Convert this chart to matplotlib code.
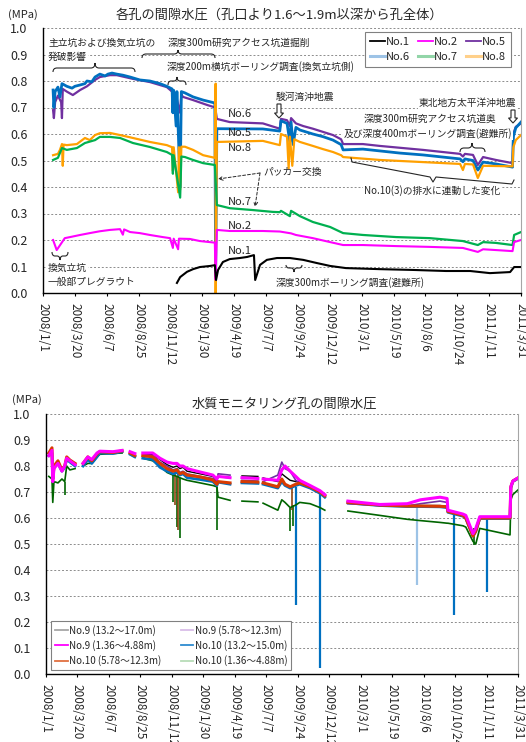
import numpy as np
import pandas as pd
import matplotlib
matplotlib.use('Agg')
import matplotlib.pyplot as plt
from matplotlib.lines import Line2D
from matplotlib.path import Path
from matplotlib.patches import PathPatch, FancyArrow, FancyArrowPatch
from matplotlib.ticker import FormatStrFormatter
from matplotlib.transforms import Affine2D

nan = np.nan

# ---------------- 各孔の間隙水圧 ----------------
no1_dates = ['2008/11/28', '2008/12/6', '2008/12/23', '2009/1/7', '2009/1/24', '2009/2/18', '2009/3/2',
             '2009/3/5', '2009/3/10', '2009/3/22', '2009/4/8', '2009/5/3', '2009/5/21', '2009/6/7',
             '2009/6/10', '2009/6/22', '2009/7/9', '2009/8/3', '2009/9/4', '2009/10/7', '2009/11/10',
             '2009/12/13', '2010/1/21', '2010/4/15', '2010/7/6', '2010/9/26', '2010/11/25', '2011/1/13',
             '2011/3/4', '2011/3/14', '2011/3/31']
no1_vals = [0.038, 0.06, 0.08, 0.09, 0.098, 0.102, 0.105, 0.049, 0.087, 0.117, 0.128, 0.132, 0.136, 0.143,
            0.049, 0.106, 0.125, 0.132, 0.132, 0.125, 0.113, 0.102, 0.094, 0.09, 0.087, 0.083, 0.083, 0.075,
            0.079, 0.098, 0.098]

no2_dates = ['2008/1/26', '2008/2/4', '2008/2/12', '2008/2/24', '2008/3/8', '2008/4/2', '2008/4/26', '2008/5/21',
             '2008/6/15', '2008/7/10', '2008/7/17', '2008/7/20', '2008/8/4', '2008/8/28', '2008/9/22',
             '2008/10/24', '2008/11/11', '2008/11/18', '2008/11/20', '2008/12/1', '2008/12/3', '2008/12/30',
             '2009/1/24', '2009/3/2', '2009/3/4', '2009/3/7', '2009/4/8', '2009/6/29', '2009/8/10', '2009/9/7',
             '2009/9/19', '2009/10/31', '2009/12/13', '2010/1/14', '2010/3/4', '2010/5/26', '2010/8/17',
             '2010/11/7', '2010/12/14', '2010/12/27', '2011/1/28', '2011/3/10', '2011/3/14', '2011/3/31']
no2_vals = [0.20, 0.162, 0.18, 0.207, 0.211, 0.219, 0.226, 0.233, 0.238, 0.241, 0.22, 0.24, 0.23, 0.226, 0.219,
            0.211, 0.207, 0.17, 0.205, 0.165, 0.205, 0.204, 0.196, 0.19, 0.05, 0.238, 0.234, 0.234, 0.232, 0.225,
            0.219, 0.207, 0.192, 0.181, 0.181, 0.177, 0.174, 0.17, 0.155, 0.165, 0.162, 0.158, 0.192, 0.20]

no5_dates = ['2008/1/26', '2008/1/28', '2008/1/31', '2008/2/7', '2008/2/15', '2008/2/17', '2008/2/19', '2008/2/29',
             '2008/3/15', '2008/4/2', '2008/4/19', '2008/5/9', '2008/5/21', '2008/6/15', '2008/7/2', '2008/8/11',
             '2008/9/22', '2008/11/3', '2008/11/16', '2008/11/21', '2008/11/24', '2008/12/6', '2008/12/9',
             '2008/12/13', '2009/1/7', '2009/2/10', '2009/3/3', '2009/3/7', '2009/4/8', '2009/6/29', '2009/8/10',
             '2009/8/13', '2009/8/28', '2009/9/4', '2009/9/7', '2009/9/19', '2009/10/7', '2009/10/31',
             '2009/11/25', '2009/12/20', '2010/1/9', '2010/1/14', '2010/3/4', '2010/4/15', '2010/6/11',
             '2010/7/31', '2010/9/18', '2010/10/31', '2010/11/7', '2010/11/12', '2010/12/2', '2010/12/14',
             '2010/12/27', '2011/1/28', '2011/3/10', '2011/3/12', '2011/3/18', '2011/3/31']
no5_vals = [0.69, 0.66, 0.72, 0.745, 0.72, 0.66, 0.77, 0.76, 0.747, 0.766, 0.78, 0.804, 0.815, 0.822, 0.822,
            0.808, 0.796, 0.777, 0.76, 0.70, 0.755, 0.68, 0.75, 0.74, 0.728, 0.71, 0.70, 0.657, 0.645, 0.64,
            0.62, 0.657, 0.652, 0.63, 0.66, 0.64, 0.63, 0.62, 0.608, 0.596, 0.58, 0.562, 0.562, 0.555, 0.547,
            0.54, 0.532, 0.525, 0.515, 0.525, 0.521, 0.483, 0.513, 0.502, 0.49, 0.60, 0.627, 0.64]

no6_dates = ['2008/1/26', '2008/1/28', '2008/1/31', '2008/2/7', '2008/2/12', '2008/2/17', '2008/2/29', '2008/3/13',
             '2008/3/20', '2008/4/2', '2008/4/14', '2008/4/19', '2008/5/1', '2008/5/9', '2008/5/21', '2008/6/3',
             '2008/6/10', '2008/6/20', '2008/7/2', '2008/7/17', '2008/8/4', '2008/8/28', '2008/9/22',
             '2008/10/17', '2008/11/3', '2008/11/16', '2008/11/18', '2008/11/20', '2008/11/26', '2008/11/28',
             '2008/12/6', '2008/12/9', '2008/12/18', '2009/1/7', '2009/2/1', '2009/3/2', '2009/3/4', '2009/3/7',
             '2009/6/29', '2009/8/10', '2009/8/13', '2009/8/28', '2009/9/4', '2009/9/7', '2009/9/12',
             '2009/9/19', '2009/9/29', '2009/10/31', '2009/11/25', '2009/12/20', '2010/1/9', '2010/1/14',
             '2010/3/4', '2010/6/4', '2010/7/31', '2010/9/18', '2010/10/31', '2010/11/7', '2010/11/12',
             '2010/12/2', '2010/12/14', '2010/12/27', '2011/1/28', '2011/3/10', '2011/3/12', '2011/3/18',
             '2011/3/31']
no6_vals = [0.766, 0.70, 0.76, 0.777, 0.74, 0.79, 0.78, 0.773, 0.78, 0.785, 0.79, 0.80, 0.797, 0.815, 0.826,
            0.819, 0.826, 0.83, 0.826, 0.822, 0.815, 0.804, 0.80, 0.79, 0.78, 0.77, 0.68, 0.765, 0.63, 0.76,
            0.40, 0.76, 0.755, 0.74, 0.728, 0.717, 0.06, 0.62, 0.619, 0.611, 0.65, 0.64, 0.57, 0.645, 0.56,
            0.625, 0.615, 0.60, 0.59, 0.577, 0.56, 0.54, 0.543, 0.528, 0.521, 0.513, 0.506, 0.495, 0.506, 0.50,
            0.464, 0.494, 0.487, 0.475, 0.59, 0.623, 0.645]

no7_dates = ['2008/1/26', '2008/2/7', '2008/2/17', '2008/2/29', '2008/3/25', '2008/4/14', '2008/5/9', '2008/5/21',
             '2008/6/15', '2008/7/10', '2008/8/11', '2008/9/22', '2008/11/3', '2008/11/16', '2008/11/18',
             '2008/11/20', '2008/12/6', '2008/12/9', '2008/12/18', '2009/1/7', '2009/2/1', '2009/3/2', '2009/3/7',
             '2009/4/8', '2009/6/4', '2009/7/24', '2009/8/10', '2009/8/13', '2009/9/4', '2009/9/7', '2009/9/29',
             '2009/10/31', '2009/12/13', '2010/1/14', '2010/3/4', '2010/5/26', '2010/8/17', '2010/11/7',
             '2010/12/14', '2010/12/27', '2011/1/28', '2011/3/10', '2011/3/14', '2011/3/31']
no7_vals = [0.502, 0.51, 0.547, 0.54, 0.547, 0.566, 0.577, 0.589, 0.589, 0.585, 0.566, 0.551, 0.532, 0.521,
            0.45, 0.52, 0.36, 0.515, 0.513, 0.502, 0.49, 0.483, 0.332, 0.32, 0.313, 0.306, 0.305, 0.31, 0.29,
            0.31, 0.29, 0.268, 0.249, 0.226, 0.219, 0.211, 0.207, 0.196, 0.181, 0.192, 0.189, 0.181, 0.219, 0.23]

no8_dates = ['2008/1/26', '2008/2/7', '2008/2/12', '2008/2/17', '2008/2/19', '2008/2/21', '2008/2/29', '2008/3/25',
             '2008/4/14', '2008/4/26', '2008/5/9', '2008/5/21', '2008/6/15', '2008/7/10', '2008/8/11', '2008/9/22',
             '2008/11/3', '2008/11/16', '2008/11/18', '2008/11/20', '2008/12/1', '2008/12/3', '2008/12/6',
             '2008/12/9', '2008/12/18', '2009/1/7', '2009/2/1', '2009/3/2', '2009/3/4', '2009/3/4', '2009/3/7',
             '2009/6/29', '2009/8/10', '2009/8/13', '2009/8/28', '2009/9/1', '2009/9/4', '2009/9/10',
             '2009/9/15', '2009/9/29', '2009/10/31', '2009/11/25', '2009/12/20', '2010/1/9', '2010/1/14',
             '2010/4/15', '2010/7/31', '2010/10/31', '2010/11/7', '2010/11/12', '2010/12/2', '2010/12/14',
             '2010/12/27', '2011/3/10', '2011/3/12', '2011/3/18', '2011/3/31']
no8_vals = [0.52, 0.525, 0.54, 0.562, 0.48, 0.56, 0.558, 0.562, 0.585, 0.577, 0.596, 0.603, 0.604, 0.596, 0.585,
            0.57, 0.558, 0.55, 0.46, 0.55, 0.38, 0.55, 0.39, 0.552, 0.552, 0.54, 0.52, 0.51, 0.79, 0.0, 0.57,
            0.574, 0.558, 0.60, 0.59, 0.47, 0.59, 0.48, 0.58, 0.57, 0.555, 0.543, 0.532, 0.52, 0.513, 0.502,
            0.494, 0.487, 0.464, 0.487, 0.485, 0.434, 0.48, 0.478, 0.55, 0.577, 0.596]

# ---------------- 水質モニタリング孔 (No.9, No.10) ----------------
wq_dates = ['2008/1/8', '2008/1/16', '2008/1/18', '2008/1/21', '2008/1/31', '2008/2/10', '2008/2/17', '2008/2/22',
            '2008/3/1', '2008/3/14',
            '2008/3/20', '2008/4/3', '2008/4/15', '2008/4/25', '2008/5/8', '2008/5/15', '2008/6/17', '2008/7/10',
            '2008/7/20', '2008/7/30',
            '2008/8/11', '2008/8/20', '2008/8/31', '2008/9/25', '2008/10/13', '2008/10/31', '2008/11/15',
            '2008/11/25', '2008/12/2', '2008/12/10',
            '2008/12/20', '2009/1/22', '2009/2/23', '2009/3/5', '2009/3/8', '2009/4/7', '2009/4/20', '2009/5/7',
            '2009/6/16', '2009/6/22',
            '2009/6/29', '2009/8/5', '2009/8/15', '2009/8/23', '2009/9/5', '2009/9/19', '2009/9/29', '2009/10/25',
            '2009/11/19', '2009/12/1',
            '2010/1/1', '2010/1/28', '2010/4/18', '2010/6/26', '2010/7/29', '2010/9/16', '2010/10/4', '2010/10/6',
            '2010/11/13', '2010/11/20',
            '2010/12/8', '2010/12/15', '2010/12/25', '2011/3/11', '2011/3/13', '2011/3/18', '2011/3/31']

no9_deep = [0.845, 0.865, 0.745, 0.795, 0.815, 0.78, 0.80, 0.832, 0.82, 0.807,
            nan, 0.81, 0.835, 0.822, 0.848, 0.856, 0.853, 0.859, nan, 0.852,
            0.844, nan, 0.845, 0.845, 0.825, 0.805, 0.795, 0.80, 0.79, 0.795,
            0.78, 0.77, 0.76, 0.745, 0.758, 0.755, nan, 0.762, 0.76, nan,
            0.754, 0.74, 0.77, 0.76, 0.745, 0.74, 0.74, 0.722, 0.702, 0.688,
            nan, 0.665, 0.652, 0.648, 0.648, 0.648, 0.645, 0.627, 0.612, 0.605,
            0.535, 0.555, 0.602, 0.602, 0.72, 0.742, 0.754]
no9_mid = [0.84, 0.86, 0.74, 0.79, 0.815, 0.78, 0.80, 0.83, 0.82, 0.805,
           nan, 0.81, 0.835, 0.82, 0.847, 0.855, 0.852, 0.858, nan, 0.85,
           0.842, nan, 0.842, 0.84, 0.815, 0.80, 0.785, 0.79, 0.775, 0.78,
           0.77, 0.76, 0.752, 0.74, 0.77, 0.765, nan, 0.745, 0.742, nan,
           0.74, 0.765, 0.815, 0.79, 0.78, 0.745, 0.735, 0.72, 0.70, 0.69,
           nan, 0.655, 0.648, 0.646, 0.655, 0.665, 0.66, 0.625, 0.61, 0.605,
           0.53, 0.555, 0.602, 0.60, 0.72, 0.745, 0.756]
no9_shallow = [0.84, 0.86, 0.74, 0.79, 0.81, 0.78, 0.80, 0.83, 0.82, 0.805,
               nan, 0.81, 0.835, 0.825, 0.85, 0.857, 0.855, 0.86, nan, 0.855,
               0.848, nan, 0.85, 0.85, 0.83, 0.815, 0.81, 0.81, 0.80, 0.80,
               0.79, 0.777, 0.765, 0.75, 0.76, 0.755, nan, 0.755, 0.752, nan,
               0.75, 0.745, 0.785, 0.80, 0.78, 0.76, 0.745, 0.725, 0.705, 0.69,
               nan, 0.665, 0.652, 0.655, 0.67, 0.68, 0.675, 0.63, 0.615, 0.61,
               0.54, 0.56, 0.605, 0.605, 0.72, 0.742, 0.754]
no10_deep = [0.84, 0.85, 0.75, 0.795, 0.81, 0.78, 0.795, 0.825, 0.815, 0.80,
             nan, 0.80, 0.825, 0.81, 0.835, 0.85, 0.848, 0.855, nan, 0.845,
             0.835, nan, 0.83, 0.825, 0.795, 0.78, 0.77, 0.775, 0.765, 0.77,
             0.755, 0.748, 0.74, 0.725, 0.738, 0.73, nan, 0.735, 0.733, nan,
             0.73, 0.715, 0.74, 0.725, 0.715, 0.725, 0.73, 0.715, 0.695, 0.68,
             nan, 0.658, 0.648, 0.644, 0.644, 0.643, 0.64, 0.622, 0.607, 0.598,
             0.53, 0.548, 0.598, 0.598, 0.715, 0.74, 0.752]
no10_mid = [0.85, 0.87, 0.75, 0.80, 0.82, 0.785, 0.80, 0.835, 0.823, 0.81,
            nan, 0.81, 0.835, 0.82, 0.846, 0.855, 0.852, 0.858, nan, 0.85,
            0.84, nan, 0.84, 0.835, 0.81, 0.79, 0.78, 0.785, 0.77, 0.775,
            0.765, 0.758, 0.746, 0.73, 0.74, 0.735, nan, 0.74, 0.738, nan,
            0.735, 0.72, 0.75, 0.73, 0.72, 0.73, 0.735, 0.72, 0.70, 0.685,
            nan, 0.66, 0.65, 0.646, 0.646, 0.645, 0.643, 0.625, 0.61, 0.60,
            0.53, 0.55, 0.60, 0.60, 0.72, 0.742, 0.754]
no10_shallow = [0.76, 0.75, 0.66, 0.74, 0.735, 0.75, 0.74, 0.80, 0.785, 0.79,
                nan, 0.80, 0.81, 0.81, 0.835, 0.845, 0.848, 0.85, nan, 0.845,
                0.835, nan, 0.83, 0.82, 0.80, 0.775, 0.765, 0.76, 0.755, 0.75,
                0.745, 0.735, 0.725, 0.72, 0.68, 0.668, nan, 0.665, 0.662, nan,
                0.657, 0.63, 0.67, 0.66, 0.64, 0.65, 0.66, 0.655, 0.64, 0.63,
                nan, 0.627, 0.61, 0.595, 0.59, 0.583, 0.58, 0.58, 0.57, 0.565,
                0.51, 0.50, 0.56, 0.535, 0.67, 0.69, 0.708]

# 瞬間的な低下 (日付, 下端, 上端)
no10_deep_drop_dates = ['2009/9/19', '2009/11/19', '2010/10/21', '2011/1/12']
no10_deep_drop_lo = [0.265, 0.023, 0.227, 0.315]
no10_deep_drop_hi = [0.72, 0.70, 0.62, 0.60]
no10_deep_drop2_dates = ['2010/7/21']
no10_deep_drop2_lo = [0.342]
no10_deep_drop2_hi = [0.645]
no10_shallow_drop_dates = ['2008/2/17', '2008/11/15', '2008/11/25', '2008/12/2', '2009/3/5', '2009/9/5',
                           '2009/9/12', '2010/12/10']
no10_shallow_drop_lo = [0.69, 0.66, 0.565, 0.523, 0.555, 0.55, 0.57, 0.495]
no10_shallow_drop_hi = [0.74, 0.765, 0.76, 0.755, 0.72, 0.64, 0.65, 0.56]
no10_mid_drop_dates = ['2008/11/20', '2008/11/28', '2009/9/10']
no10_mid_drop_lo = [0.65, 0.555, 0.63]
no10_mid_drop_hi = [0.78, 0.78, 0.72]

plt.rcParams['font.family'] = ['Noto Sans CJK JP', 'DejaVu Sans']

W, H = 526, 742
fig = plt.figure(figsize=(W / 100, H / 100), dpi=100)
# 画像ピクセル座標(左上原点)で注記を置くための変換
PX = Affine2D().scale(1 / W, -1 / H).translate(0, 1) + fig.transFigure
TXT = '#262626'


def d(lst):
    return pd.to_datetime(lst, format='%Y/%m/%d')


t0, t1 = pd.Timestamp('2008-01-01'), pd.Timestamp('2011-03-31')
xticks = pd.date_range(t0, periods=16, freq='79D')


def setup(ax):
    ax.set_xlim(t0, t1)
    ax.set_ylim(0, 1.0)
    ax.set_yticks(np.arange(0, 1.01, 0.1))
    ax.yaxis.set_major_formatter(FormatStrFormatter('%.1f'))
    ax.set_xticks(xticks)
    ax.set_xticklabels([f'{t.year}/{t.month}/{t.day}' for t in xticks], rotation=-90,
                       fontsize=8.5, color=TXT)
    ax.tick_params(axis='y', length=0, labelsize=9, labelcolor=TXT, pad=11)
    ax.tick_params(axis='x', length=2.5, width=0.8, direction='out', pad=4.5)
    ax.grid(axis='y', color='#8c8c8c', linestyle=(0, (2, 2)), lw=0.7)
    ax.set_axisbelow(True)
    ax.spines['top'].set_visible(False)
    ax.spines['right'].set_color('#a6a6a6')
    ax.spines['left'].set_linewidth(1.0)
    ax.spines['bottom'].set_linewidth(1.0)


def brace(x0, x1, yf, end_dy, tip_dy, xt=None, r=4):
    xt = (x0 + x1) / 2 if xt is None else xt
    verts = [(x0, yf + end_dy), (x0, yf), (x0 + r, yf), (xt - r, yf), (xt, yf), (xt, yf + tip_dy),
             (xt, yf), (xt + r, yf), (x1 - r, yf), (x1, yf), (x1, yf + end_dy)]
    codes = [Path.MOVETO, Path.CURVE3, Path.CURVE3, Path.LINETO, Path.CURVE3, Path.CURVE3,
             Path.CURVE3, Path.CURVE3, Path.LINETO, Path.CURVE3, Path.CURVE3]
    fig.add_artist(PathPatch(Path(verts, codes), transform=PX, fill=False, lw=0.8, ec=TXT))


def note(x, y, s, size=7, ha='left', white=True, **kw):
    bb = dict(facecolor='white', edgecolor='none', pad=0.6) if white else None
    fig.text(x, y, s, transform=PX, fontsize=size, ha=ha, va='center', color=TXT, bbox=bb, **kw)


def down_arrow(x, y, length):
    fig.add_artist(FancyArrow(x, y, 0, length, width=4, head_width=9, head_length=5,
                              length_includes_head=True, transform=PX, fc='white', ec=TXT, lw=0.8))


# ---------------- 上段 ----------------
ax1 = fig.add_axes([43 / W, 1 - 293 / H, 478 / W, 265 / H])
setup(ax1)
ax1.plot(d(no5_dates), no5_vals, color='#7030a0', lw=1.6)
ax1.plot(d(no6_dates), no6_vals, color='#0070c0', lw=2.0)
ax1.plot(d(no8_dates), no8_vals, color='#ffa000', lw=1.6)
ax1.plot(d(no7_dates), no7_vals, color='#00b050', lw=1.6)
ax1.plot(d(no2_dates), no2_vals, color='#ff00ff', lw=1.5)
ax1.plot(d(no1_dates), no1_vals, color='#000000', lw=1.5)

h1 = [Line2D([], [], color='#000000', lw=1.3), Line2D([], [], color='#9dc3e6', lw=2.2),
      Line2D([], [], color='#ff00ff', lw=1.3), Line2D([], [], color='#92d5a8', lw=2.2),
      Line2D([], [], color='#7030a0', lw=1.3), Line2D([], [], color='#ffd08a', lw=2.2)]
l1 = ['No.1', 'No.6', 'No.2', 'No.7', 'No.5', 'No.8']
leg1 = ax1.legend(h1, l1, ncol=3, loc='upper left', bbox_to_anchor=(0.674, 0.985), fontsize=8,
                  fancybox=False, edgecolor='#808080', framealpha=1, handlelength=1.3,
                  handletextpad=0.15, columnspacing=0.7, labelspacing=0.45, borderpad=0.45,
                  borderaxespad=0)
leg1.get_frame().set_linewidth(0.8)
for t in leg1.get_texts():
    t.set_color(TXT)

fig.text(8 / W, 1 - 15 / H, '(MPa)', fontsize=8, color=TXT, va='center')
fig.text(279 / W, 1 - 15 / H, '各孔の間隙水圧（孔口より1.6～1.9m以深から孔全体）', fontsize=9.5,
         color=TXT, ha='center', va='center')

note(48, 43, '主立坑および換気立坑の')
note(48, 57, '発破影響')
brace(53, 135, 68, 4, -5, xt=95)
note(168, 43, '深度300m研究アクセス坑道掘削')
brace(142, 215, 54, 4, -4, xt=178)
note(167, 67, '深度200m横坑ボーリング調査(換気立坑側)')
brace(168, 186, 81, 4, -4, xt=177, r=3)
note(276, 97, '駿河湾沖地震')
down_arrow(279, 104, 14)
note(516, 103, '東北地方太平洋沖地震', ha='right')
down_arrow(513, 110, 13)
note(430, 119, '深度300m研究アクセス坑道奥', ha='center')
note(428, 134, '及び深度400mボーリング調査(避難所)', ha='center')
brace(460, 485, 148, 4, -5, xt=472)
note(432, 191, 'No.10(3)の排水に連動した変化', ha='center')
fig.add_artist(Line2D([351, 352, 430, 433, 436, 512, 514], [158, 162, 177, 182, 177, 184, 180],
                      transform=PX, color=TXT, lw=0.8))
note(263, 172, 'パッカー交換', white=False)
for a, b in [((260, 173), (218, 179)), ((260, 173), (255, 207))]:
    fig.add_artist(FancyArrowPatch(a, b, transform=PX, arrowstyle='->', mutation_scale=7,
                                   linestyle=(0, (3, 2)), lw=0.7, color=TXT, shrinkA=0, shrinkB=0))
note(48, 268, '換気立坑')
note(48, 282, '一般部プレグラウト')
brace(52, 68, 256, -4, 4, xt=60, r=3)
note(276, 283, '深度300mボーリング調査(避難所)')
brace(286, 302, 268, -3, 4, xt=294, r=3)

for s, y in [('No.6', 114), ('No.5', 133), ('No.8', 148), ('No.7', 202), ('No.2', 226), ('No.1', 251)]:
    note(228, y, s, size=8, white=False)

# ---------------- 下段 ----------------
ax2 = fig.add_axes([46 / W, 1 - 674 / H, 472 / W, 260 / H])
setup(ax2)
wd = d(wq_dates)
ax2.vlines(d(no10_deep_drop_dates), no10_deep_drop_lo, no10_deep_drop_hi, color='#0070c0', lw=1.6)
ax2.vlines(d(no10_deep_drop2_dates), no10_deep_drop2_lo, no10_deep_drop2_hi, color='#9dc3e6', lw=1.6)
ax2.vlines(d(no10_shallow_drop_dates), no10_shallow_drop_lo, no10_shallow_drop_hi, color='#006400', lw=1.2)
ax2.vlines(d(no10_mid_drop_dates), no10_mid_drop_lo, no10_mid_drop_hi, color='#8b4513', lw=1.2)
ax2.plot(wd, no10_shallow, color='#006400', lw=1.2)
ax2.plot(wd, no10_deep, color='#0070c0', lw=2.0)
ax2.plot(wd, no9_deep, color='#000000', lw=1.0)
ax2.plot(wd, no9_mid, color='#7030a0', lw=1.2)
ax2.plot(wd, no10_mid, color='#d83b01', lw=2.2)
ax2.plot(wd, no9_shallow, color='#ff00ff', lw=2.2)

h2 = [Line2D([], [], color='#a6a6a6', lw=1.3), Line2D([], [], color='#ff00ff', lw=1.3),
      Line2D([], [], color='#e07040', lw=1.3), Line2D([], [], color='#d9bde8', lw=1.3),
      Line2D([], [], color='#2e8bd0', lw=1.3), Line2D([], [], color='#b8dcb8', lw=1.3)]
l2 = ['No.9 (13.2～17.0m)', 'No.9 (1.36～4.88m)', 'No.10 (5.78～12.3m)',
      'No.9 (5.78～12.3m)', 'No.10 (13.2～15.0m)', 'No.10 (1.36～4.88m)']
leg2 = ax2.legend(h2, l2, ncol=2, loc='lower left', bbox_to_anchor=(0.0106, 0.015), fontsize=7,
                  fancybox=False, edgecolor='#808080', framealpha=1, handlelength=1.3,
                  handletextpad=0.15, columnspacing=2.0, labelspacing=0.45, borderpad=0.4,
                  borderaxespad=0)
leg2.get_frame().set_linewidth(0.8)
for t in leg2.get_texts():
    t.set_color(TXT)

fig.text(12 / W, 1 - 400 / H, '(MPa)', fontsize=8, color=TXT, va='center')
fig.text(284 / W, 1 - 404 / H, '水質モニタリング孔の間隙水圧', fontsize=9.5, color=TXT,
         ha='center', va='center')

fig.savefig('out.png', dpi=100)
